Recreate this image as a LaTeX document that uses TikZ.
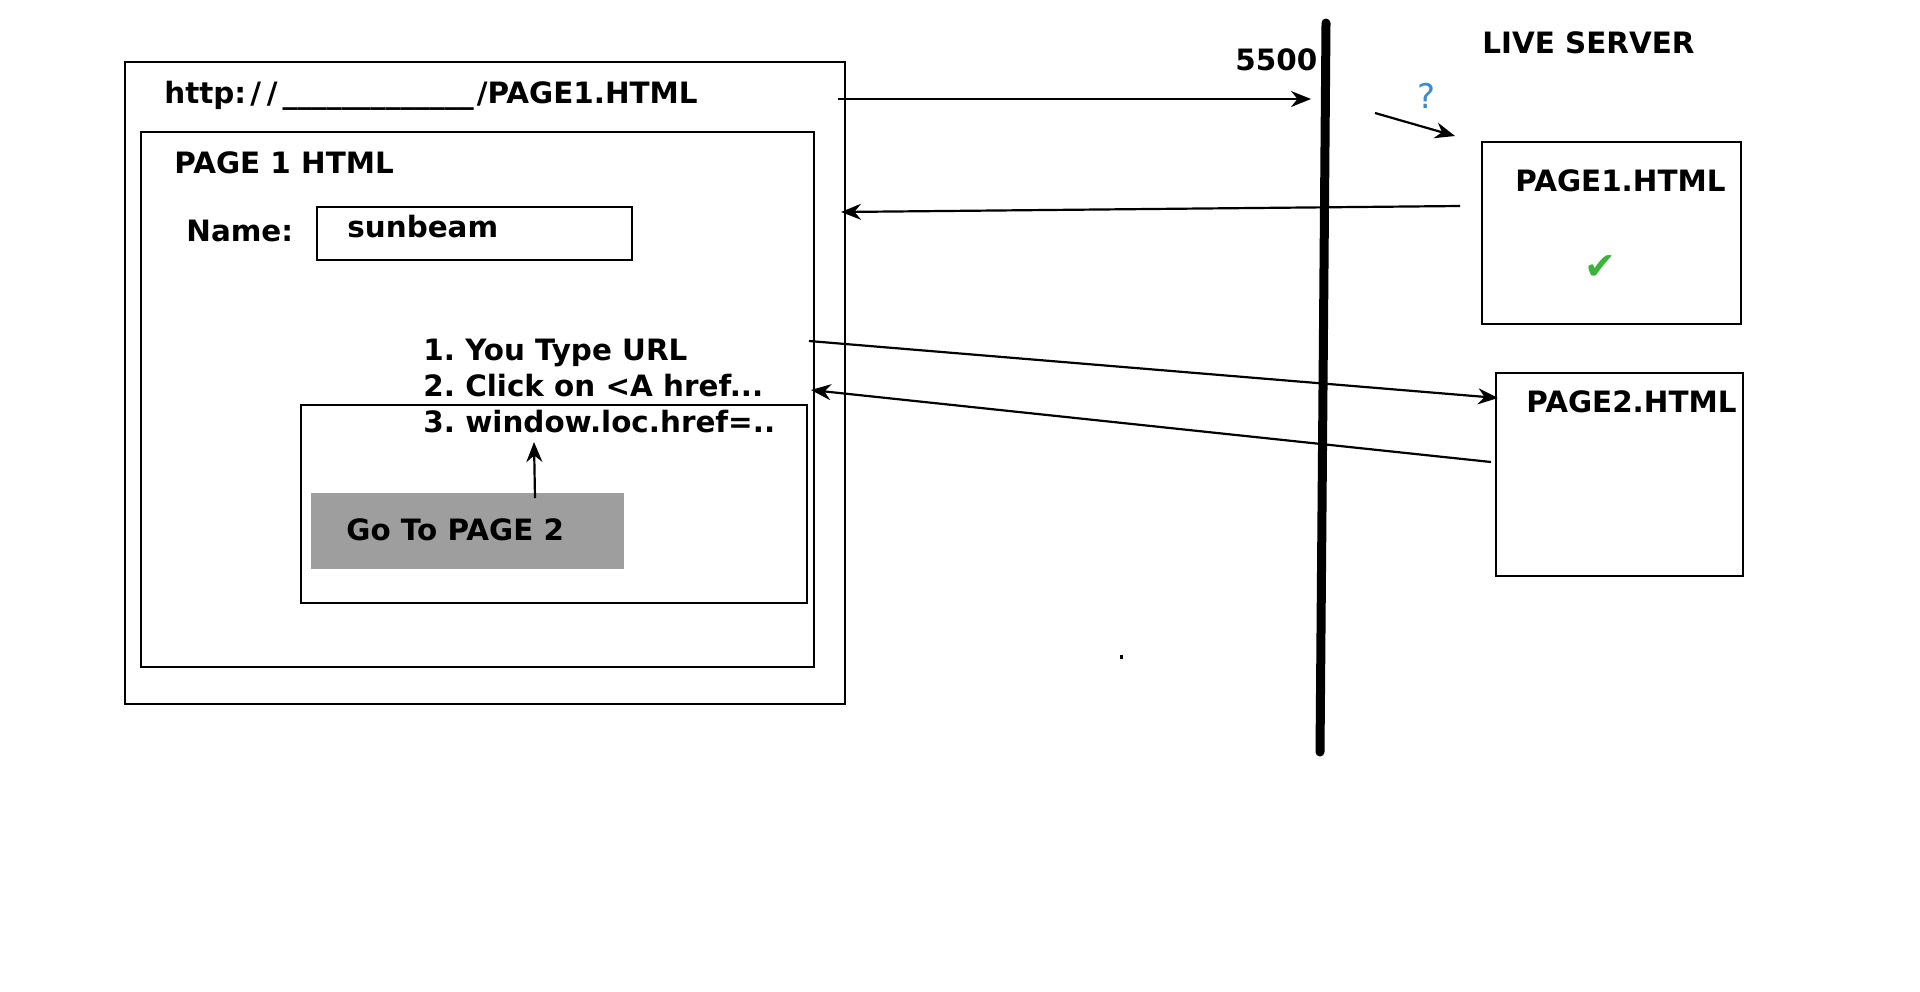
\documentclass[tikz,border=0pt]{standalone}
\usepackage{fontspec}
\setmainfont{DejaVu Sans}
\usepackage{tikz}
\usetikzlibrary{arrows.meta, positioning, fit, calc}
\definecolor{btngray}{RGB}{158,158,158}
\definecolor{askblue}{RGB}{61,139,205}
\definecolor{okgreen}{RGB}{60,180,60}
\frenchspacing

\begin{document}
\begin{tikzpicture}[
  x=0.5pt, y=-0.5pt,
  frame/.style={rectangle, draw, line width=1.2pt, inner sep=0pt},
  lbl/.style={anchor=base west, inner sep=0pt},
  arr/.style={-{Stealth[length=10pt, width=8pt]}, line width=1.1pt},
  every node/.style={font=\fontsize{14.7}{18}\selectfont\bfseries}
]
  \useasboundingbox (0,0) rectangle (1920,991);

  %% -- Browser window
  \node[frame, fit={(125,62) (845,704)}] (browser) {};
  \node[lbl] (url) at (164,103)
    {http:\kern2pt/\kern3pt/\kern2.5pt\_\_\_\_\_\_\_\_\_\_\_\_\_\kern1.5pt/PAGE1.HTML};
  \node[frame, fit={(141,132) (814,667)}] (page) {};
  \node[lbl] (title) at (174,173) {PAGE 1 HTML};
  \node[lbl] (name)  at (186,241) {Name:};
  \node[frame, fit={(317,207) (632,260)}] (field) {};
  \node[lbl] (value) at (347,237) {sunbeam};

  %% -- Ways to reach page 2
  \node[lbl] (way1) at (423,360) {1. You Type URL};
  \node[lbl] (way2) at (423,396) {2. Click on <A href...};
  \node[lbl] (way3) at (423,432) {3. window.loc.href=..};

  %% -- Form with button
  \node[frame, fit={(301,405) (807,603)}] (form) {};
  \node[rectangle, fill=btngray, inner sep=0pt, fit={(311,493) (624,569)}] (button) {};
  \node[lbl] (btntext) at (346,540) {Go To PAGE 2};
  \coordinate (clickfrom) at (535,498);
  \coordinate (clickto)   at (534,442);
  \draw[arr] (clickfrom) -- (clickto);

  %% -- Port line
  \coordinate (porttop) at (1326,23);
  \coordinate (portbot) at (1320,752);
  \draw[line width=4.5pt, line cap=round] (porttop) -- (portbot);
  \node[lbl] (port) at (1235,70) {5500};

  %% -- Live server
  \node[lbl] (server) at (1482,53) {LIVE SERVER};
  \node[lbl, text=askblue, font=\fontsize{17}{20}\selectfont] (ask) at (1417,108) {?};
  \node[frame, fit={(1482,142) (1741,324)}] (page1) {};
  \node[lbl] (page1name) at (1515,191) {PAGE1.HTML};
  \node[text=okgreen, font=\fontsize{19}{22}\selectfont] (tick) at (1600,268) {✔};
  \node[frame, fit={(1496,373) (1743,576)}] (page2) {};
  \node[lbl] (page2name) at (1526,412) {PAGE2.HTML};

  %% Connections
  \coordinate (urlout)  at (838,99);
  \coordinate (porthit) at (1311,99);
  \coordinate (lookfrom) at (1375,113);
  \coordinate (lookto)   at (1455,136);
  \coordinate (back1from) at (1460,206);
  \coordinate (back1to)   at (841,212);
  \coordinate (go2from) at (809,341);
  \coordinate (go2to)   at (1498,398);
  \coordinate (back2from) at (1491,462);
  \coordinate (back2to)   at (811,390);

  \draw[arr] (urlout)    -- (porthit);
  \draw[arr] (lookfrom)  -- (lookto);
  \draw[arr] (back1from) -- (back1to);
  \draw[arr] (go2from)   -- (go2to);
  \draw[arr] (back2from) -- (back2to);

  %% stray dot
  \fill (1120,655) rectangle (1123,659);

\end{tikzpicture}
\end{document}
